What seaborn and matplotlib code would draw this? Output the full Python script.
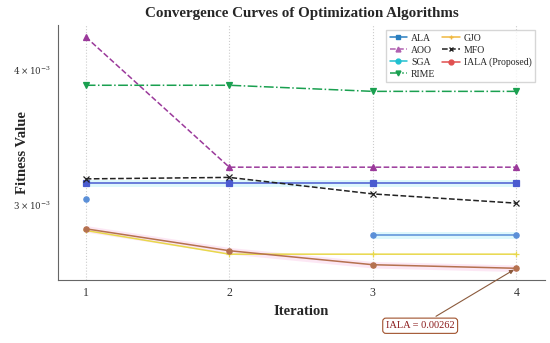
import numpy as np
import pandas as pd
import seaborn as sns
import matplotlib.pyplot as plt
from matplotlib.lines import Line2D

# values (fitness per iteration)
iterations = [1, 2, 3, 4]
ala = [3.14e-3, 3.14e-3, 3.14e-3, 3.14e-3]
aoo = [4.29e-3, 3.25e-3, 3.25e-3, 3.25e-3]
sga = [3.04e-3, np.nan, 2.81e-3, 2.81e-3]
rime = [3.87e-3, 3.87e-3, 3.82e-3, 3.82e-3]
gjo = [2.84e-3, 2.70e-3, 2.70e-3, 2.70e-3]
mfo = [3.17e-3, 3.18e-3, 3.07e-3, 3.01e-3]
iala = [2.85e-3, 2.72e-3, 2.64e-3, 2.62e-3]

sns.set_style("white")
plt.rcParams['font.family'] = ['Liberation Serif', 'DejaVu Serif']
plt.rcParams['mathtext.fontset'] = 'dejavuserif'

styles = {
    "ALA": dict(vals=ala, color="#4a5bd0", ls="-", marker="s", lcol="#2a7fc0"),
    "AOO": dict(vals=aoo, color="#9b3a9b", ls="--", marker="^", lcol="#b060b0"),
    "SGA": dict(vals=sga, color="#5a8fd8", ls="-", marker="o", lcol="#20c0d0"),
    "RIME": dict(vals=rime, color="#1aa050", ls="-.", marker="v", lcol="#1aa050"),
    "GJO": dict(vals=gjo, color="#e8d84a", ls="-", marker="+", lcol="#f0b840"),
    "MFO": dict(vals=mfo, color="#222222", ls="--", marker="x", lcol="#222222"),
    "IALA (Proposed)": dict(vals=iala, color="#b5714f", ls="-", marker="o", lcol="#e05050"),
}

fig = plt.figure(figsize=(5.5, 3.43), dpi=100)
ax = fig.add_axes([0.105, 0.184, 0.886, 0.743])

# faint shaded bands behind a few curves
bands = {"ALA": "#c8f4fa", "SGA": "#c8f4fa", "IALA (Proposed)": "#fbd8ee"}
for name, col in bands.items():
    v = np.array(styles[name]["vals"], dtype=float)
    ax.fill_between(iterations, v * 0.993, v * 1.007, color=col, alpha=0.6,
                    lw=0, zorder=1)

for name, s in styles.items():
    df = pd.DataFrame({"iteration": iterations, "fitness": s["vals"]})
    df["seg"] = df["fitness"].isna().cumsum()
    df = df.dropna()
    sns.lineplot(data=df, x="iteration", y="fitness", units="seg", estimator=None,
                 color=s["color"], linestyle=s["ls"], marker=s["marker"],
                 markersize=3.8, linewidth=1.1, markeredgecolor=s["color"],
                 markeredgewidth=0.9, ax=ax, zorder=3)

ax.set_yscale("log")
ax.set_xlim(0.805, 4.2)
ax.set_ylim(2.556e-3, 4.40e-3)
ax.set_xticks(iterations)
ax.set_xticklabels([str(i) for i in iterations], fontsize=8.5)
ax.yaxis.set_minor_locator(plt.NullLocator())
ax.set_yticks([3e-3, 4e-3])
ax.set_yticklabels([r"$3\times10^{-3}$", r"$4\times10^{-3}$"], fontsize=6.3)
ax.tick_params(axis="both", direction="out", length=3, width=0.6, colors="#333333",
               pad=2)
ax.grid(axis="x", linestyle=":", color="#cccccc", linewidth=0.8)
ax.grid(axis="y", visible=False)
for side in ["top", "right"]:
    ax.spines[side].set_visible(False)
for side in ["left", "bottom"]:
    ax.spines[side].set_color("#666666")
    ax.spines[side].set_linewidth(0.8)

ax.set_title("Convergence Curves of Optimization Algorithms", fontsize=10.8,
             fontweight="bold", pad=6)
ax.set_xlabel("Iteration", fontsize=10.5, fontweight="bold")
ax.set_ylabel("Fitness Value", fontsize=10.5, fontweight="bold")
ax.yaxis.set_label_coords(-0.058, 0.5)
ax.xaxis.set_label_coords(0.5, -0.1)

handles = [Line2D([], [], color=s["lcol"], linestyle=s["ls"], marker=s["marker"],
                  markersize=3.5, linewidth=1.1) for s in styles.values()]
ax.legend(handles, list(styles.keys()), loc="upper right", ncol=2, fontsize=7,
          frameon=True, edgecolor="#cccccc", fancybox=False, handlelength=1.8,
          handletextpad=0.4, columnspacing=0.7, labelspacing=0.3, borderpad=0.4,
          bbox_to_anchor=(0.99, 1.0))

ax.annotate("IALA = 0.00262", xy=(4, iala[-1]), xytext=(3.33, 2.318e-3),
            textcoords="data", fontsize=7.5, color="#8b1a1a", ha="center",
            va="center", annotation_clip=False,
            bbox=dict(boxstyle="round,pad=0.3", fc="white", ec="#a0522d", lw=0.8),
            arrowprops=dict(arrowstyle="-|>", color="#8b5a3c", lw=0.8,
                            mutation_scale=6))

fig.savefig("out.png", dpi=100)
